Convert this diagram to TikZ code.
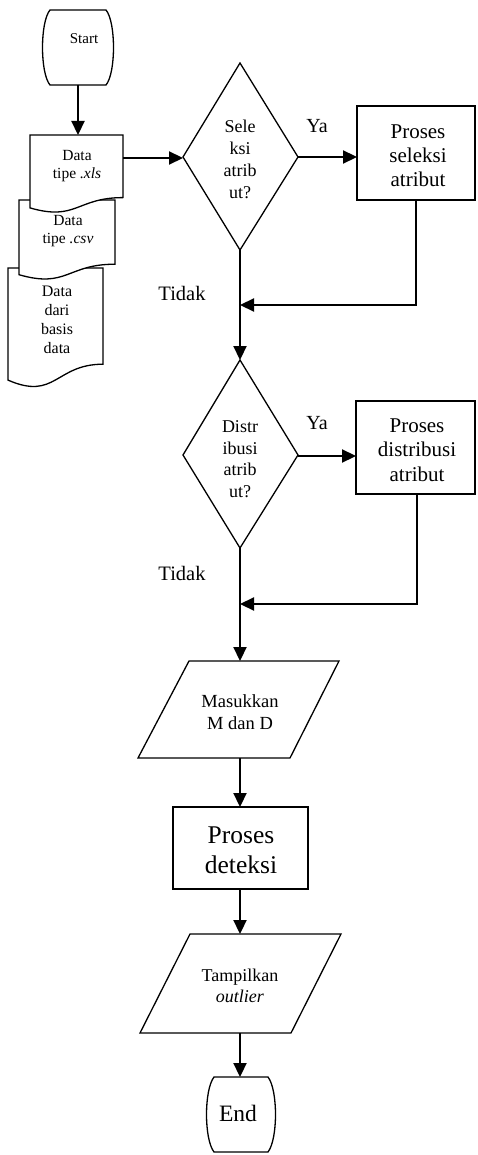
\documentclass[tikz,border=0pt]{standalone}
\usepackage{fontspec}
\setmainfont{Liberation Serif}
\usetikzlibrary{arrows.meta}
\begin{document}
\begin{tikzpicture}[x=1pt,y=-1pt,
  shapeline/.style={line width=1.3pt, fill=white, line join=miter},
  conn/.style={line width=2.2pt, -{Triangle[length=14pt,width=13pt]}},
  lbl/.style={align=center, inner sep=0pt},
]
\useasboundingbox (0,0) rectangle (477,1155);

% ---------- Start terminator ----------
\draw[shapeline] (50,10) -- (106,10) .. controls (116,22) and (116,73) .. (106,85)
  -- (50,85) .. controls (40,73) and (40,22) .. (50,10) -- cycle;
\node[lbl, font=\fontsize{15}{18}\selectfont] (start) at (84,39) {Start};
\coordinate (startS) at (78,85);

% ---------- Documents ----------
\draw[shapeline] (8,268) -- (103,268) -- (103,364.2) .. controls (55.5,364.2) and (55.5,400.9) .. (8,380.1) -- cycle;
\node[lbl, font=\fontsize{16}{19}\selectfont] (doc3) at (57,320) {Data\\dari\\basis\\data};

\draw[shapeline] (19,200) -- (115,200) -- (115,264.2) .. controls (67,264.2) and (67,288.6) .. (19,274.7) -- cycle;
\node[lbl, font=\fontsize{15.5}{18}\selectfont] (doc2) at (68,231) {Data\\tipe \textit{.csv}};

\draw[shapeline] (30,135) -- (123,135) -- (123,197.6) .. controls (76.5,197.6) and (76.5,221.4) .. (30,207.9) -- cycle;
\node[lbl, font=\fontsize{15.5}{18}\selectfont] (doc1) at (77,166) {Data\\tipe \textit{.xls}};
\coordinate (doc1N) at (78,135);
\coordinate (doc1E) at (123,158);

% ---------- Decision 1 ----------
\draw[shapeline] (240,63) -- (298,157) -- (240,250) -- (183,157) -- cycle;
\node[lbl, font=\fontsize{18}{22}\selectfont] (dec1) at (240,159) {Sele\\ksi\\atrib\\ut?};
\coordinate (dec1W) at (183,158);
\coordinate (dec1E) at (298,157);
\coordinate (dec1S) at (240,250);
\node[lbl, font=\fontsize{20}{24}\selectfont] (ya1) at (317,126) {Ya};
\node[lbl, font=\fontsize{20.5}{24}\selectfont] (tidak1) at (182,293) {Tidak};

% ---------- Process 1 ----------
\draw[shapeline] (357,106) rectangle (475,200);
\node[lbl, font=\fontsize{21}{24}\selectfont] (proc1) at (418,156) {Proses\\seleksi\\atribut};
\coordinate (proc1W) at (357,157);
\coordinate (proc1S) at (416,200);
\coordinate (join1) at (240,305);

% ---------- Decision 2 ----------
\draw[shapeline] (240,360) -- (298,455) -- (240,548) -- (183,455) -- cycle;
\node[lbl, font=\fontsize{18}{21.5}\selectfont] (dec2) at (240,459) {Distr\\ibusi\\atrib\\ut?};
\coordinate (dec2N) at (240,360);
\coordinate (dec2E) at (298,456);
\coordinate (dec2S) at (240,548);
\node[lbl, font=\fontsize{20}{24}\selectfont] (ya2) at (317,423) {Ya};
\node[lbl, font=\fontsize{20.5}{24}\selectfont] (tidak2) at (182,573) {Tidak};

% ---------- Process 2 ----------
\draw[shapeline] (356,401) rectangle (475,494);
\node[lbl, font=\fontsize{21}{24.5}\selectfont] (proc2) at (417,450) {Proses\\distribusi\\atribut};
\coordinate (proc2W) at (356,456);
\coordinate (proc2S) at (417,494);
\coordinate (join2) at (240,604);

% ---------- Input M dan D ----------
\draw[shapeline] (189,661) -- (339,661) -- (290,758) -- (138,758) -- cycle;
\node[lbl, font=\fontsize{18.5}{22}\selectfont] (in1) at (240,712) {Masukkan\\M dan D};
\coordinate (in1N) at (240,661);
\coordinate (in1S) at (240,758);

% ---------- Proses deteksi ----------
\draw[shapeline] (173,807) rectangle (308,889);
\node[lbl, font=\fontsize{25.5}{30}\selectfont] (det) at (241,850) {Proses\\deteksi};
\coordinate (detN) at (240,807);
\coordinate (detS) at (240,889);

% ---------- Output ----------
\draw[shapeline] (190,934) -- (341,934) -- (291,1033) -- (140,1033) -- cycle;
\node[lbl, font=\fontsize{18}{21.5}\selectfont] (out1) at (240,986) {Tampilkan\\\textit{outlier}};
\coordinate (out1N) at (240,934);
\coordinate (out1S) at (240,1033);

% ---------- End terminator ----------
\draw[shapeline] (214,1077) -- (268,1077) .. controls (278,1090) and (278,1139) .. (268,1152)
  -- (214,1152) .. controls (204,1139) and (204,1090) .. (214,1077) -- cycle;
\node[lbl, font=\fontsize{23.5}{28}\selectfont] (endn) at (238,1113) {End};
\coordinate (endN) at (240,1077);

% ---------- Connectors ----------
\draw[conn] (startS) -- (doc1N);
\draw[conn] (doc1E) -- (dec1W);
\draw[conn] (dec1E) -- (proc1W);
\draw[conn] (proc1S) |- (join1);
\draw[conn] (dec1S) -- (dec2N);
\draw[conn] (dec2E) -- (proc2W);
\draw[conn] (proc2S) |- (join2);
\draw[conn] (dec2S) -- (in1N);
\draw[conn] (in1S) -- (detN);
\draw[conn] (detS) -- (out1N);
\draw[conn] (out1S) -- (endN);
\end{tikzpicture}
\end{document}
